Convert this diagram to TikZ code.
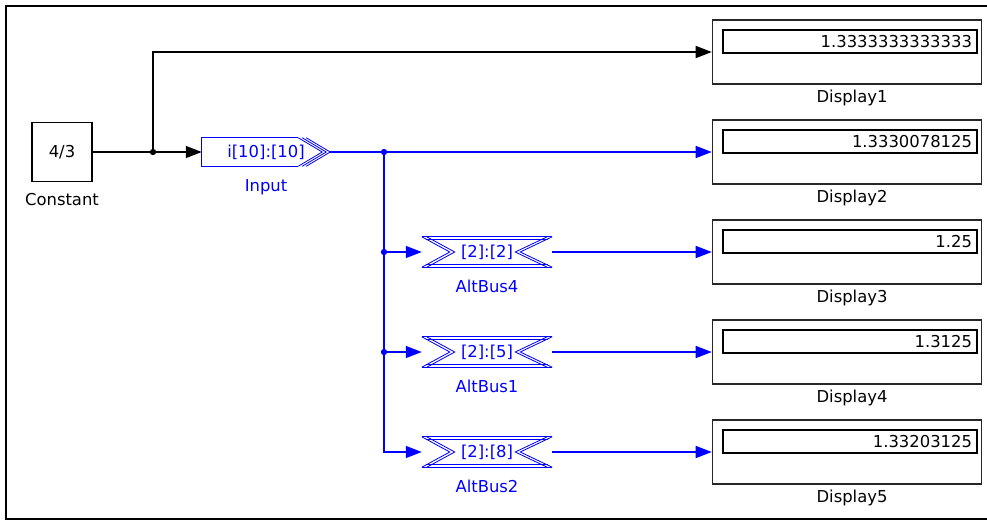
\documentclass[tikz,border=0pt]{standalone}
\usepackage{fontspec}
\setmainfont{DejaVu Sans}
\usetikzlibrary{arrows.meta, positioning, calc}

\tikzset{
  every node/.style={font=\fontsize{14}{16}\selectfont},
  sig/.style={line width=1.3pt, -{Triangle[length=4.8mm,width=3.6mm]}},
  bus/.style={sig, blue},
  dot/.style={circle, fill, inner sep=0pt, minimum size=1.9mm},
  constbox/.style={draw, line width=1pt, minimum width=1.8cm, minimum height=1.75cm, inner sep=0pt},
  busblk/.style={blue, inner sep=0pt},
  dispbox/.style={draw=black!85, line width=1.3pt, minimum width=8.07cm, minimum height=1.92cm},
  dispval/.style={draw, line width=0.9pt, minimum height=0.69cm, text width=7.32cm, inner xsep=0.15cm, align=right},
  lbl/.style={inner sep=1pt}
}

\begin{document}
\begin{tikzpicture}[x=0.03cm, y=-0.03cm]
  \useasboundingbox (0,0) rectangle (987,521);
  % frame
  \draw[line width=2.5pt] (987,6) -- (6,6) -- (6,519) -- (987,519);

  % Constant
  \node[constbox] (const) at (62,152) {4/3};
  \node[lbl] (constlab) at (62,200) {Constant};

  % Input
  \node[busblk, minimum width=3.84cm, minimum height=0.84cm] (input) at (266,152) {i[10]:[10]};
  \node[lbl, blue] (inputlab) at (266,187) {Input};
  \draw[blue, line width=1pt] ($(input.north east)+(-32,0)$) -- (input.north west)
    -- (input.south west) -- ($(input.south east)+(-32,0)$);
  \foreach \d in {0,4,8}
    \draw[blue, line width=0.7pt] ($(input.north east)+(-32+\d,0)$) -- ($(input.east)+(-8+\d,0)$)
      -- ($(input.south east)+(-32+\d,0)$);

  % AltBus blocks
  \node[busblk, minimum width=3.9cm, minimum height=0.9cm] (alt4) at (487,252) {[2]:[2]};
  \node[lbl, blue] (alt4lab) at (487,286) {AltBus4};
  \node[busblk, minimum width=3.9cm, minimum height=0.9cm] (alt1) at (487,352) {[2]:[5]};
  \node[lbl, blue] (alt1lab) at (487,386) {AltBus1};
  \node[busblk, minimum width=3.9cm, minimum height=0.9cm] (alt2) at (487,452) {[2]:[8]};
  \node[lbl, blue] (alt2lab) at (487,486) {AltBus2};
  \foreach \b in {alt4,alt1,alt2} {
    \draw[blue, line width=1pt] (\b.north west) -- (\b.north east) (\b.south west) -- (\b.south east);
    \draw[blue, line width=0.6pt] ($(\b.north west)+(4,3)$) -- ($(\b.north east)+(-4,3)$)
      ($(\b.south west)+(4,-3)$) -- ($(\b.south east)+(-4,-3)$);
    \foreach \d in {0,5} {
      \draw[blue, line width=0.7pt] ($(\b.north west)+(\d,0)$) -- ($(\b.west)+(28+\d,0)$)
        -- ($(\b.south west)+(\d,0)$);
      \draw[blue, line width=0.7pt] ($(\b.north east)+(-\d,0)$) -- ($(\b.east)+(-32-\d,0)$)
        -- ($(\b.south east)+(-\d,0)$);
    }
  }

  % Displays
  \node[dispbox] (disp1) at (847,52) {};
  \node[dispval] (val1) at (850,41.5) {1.3333333333333};
  \node[lbl] (disp1lab) at (852,98) {Display1};
  \node[dispbox] (disp2) at (847,152) {};
  \node[dispval] (val2) at (850,141.5) {1.3330078125};
  \node[lbl] (disp2lab) at (852,198) {Display2};
  \node[dispbox] (disp3) at (847,252) {};
  \node[dispval] (val3) at (850,241.5) {1.25};
  \node[lbl] (disp3lab) at (852,298) {Display3};
  \node[dispbox] (disp4) at (847,352) {};
  \node[dispval] (val4) at (850,341.5) {1.3125};
  \node[lbl] (disp4lab) at (852,398) {Display4};
  \node[dispbox] (disp5) at (847,452) {};
  \node[dispval] (val5) at (850,441.5) {1.33203125};
  \node[lbl] (disp5lab) at (852,498) {Display5};

  % signals
  \coordinate (j1) at (153,152);
  \coordinate (j2) at (384,152);
  \draw[sig] (const.east) -- (input.west);
  \draw[sig] (j1) |- (disp1.west);
  \node[dot] (j1dot) at (j1) {};
  \draw[bus] (input.east) -- (disp2.west);
  \draw[bus] (j2) |- (alt2.west);
  \draw[bus] (j2 |- alt4.west) -- (alt4.west);
  \draw[bus] (j2 |- alt1.west) -- (alt1.west);
  \node[dot, blue] (j2dot) at (j2) {};
  \node[dot, blue] (j3dot) at (j2 |- alt4.west) {};
  \node[dot, blue] (j4dot) at (j2 |- alt1.west) {};
  \draw[bus] (alt4.east) -- (disp3.west);
  \draw[bus] (alt1.east) -- (disp4.west);
  \draw[bus] (alt2.east) -- (disp5.west);
\end{tikzpicture}
\end{document}
